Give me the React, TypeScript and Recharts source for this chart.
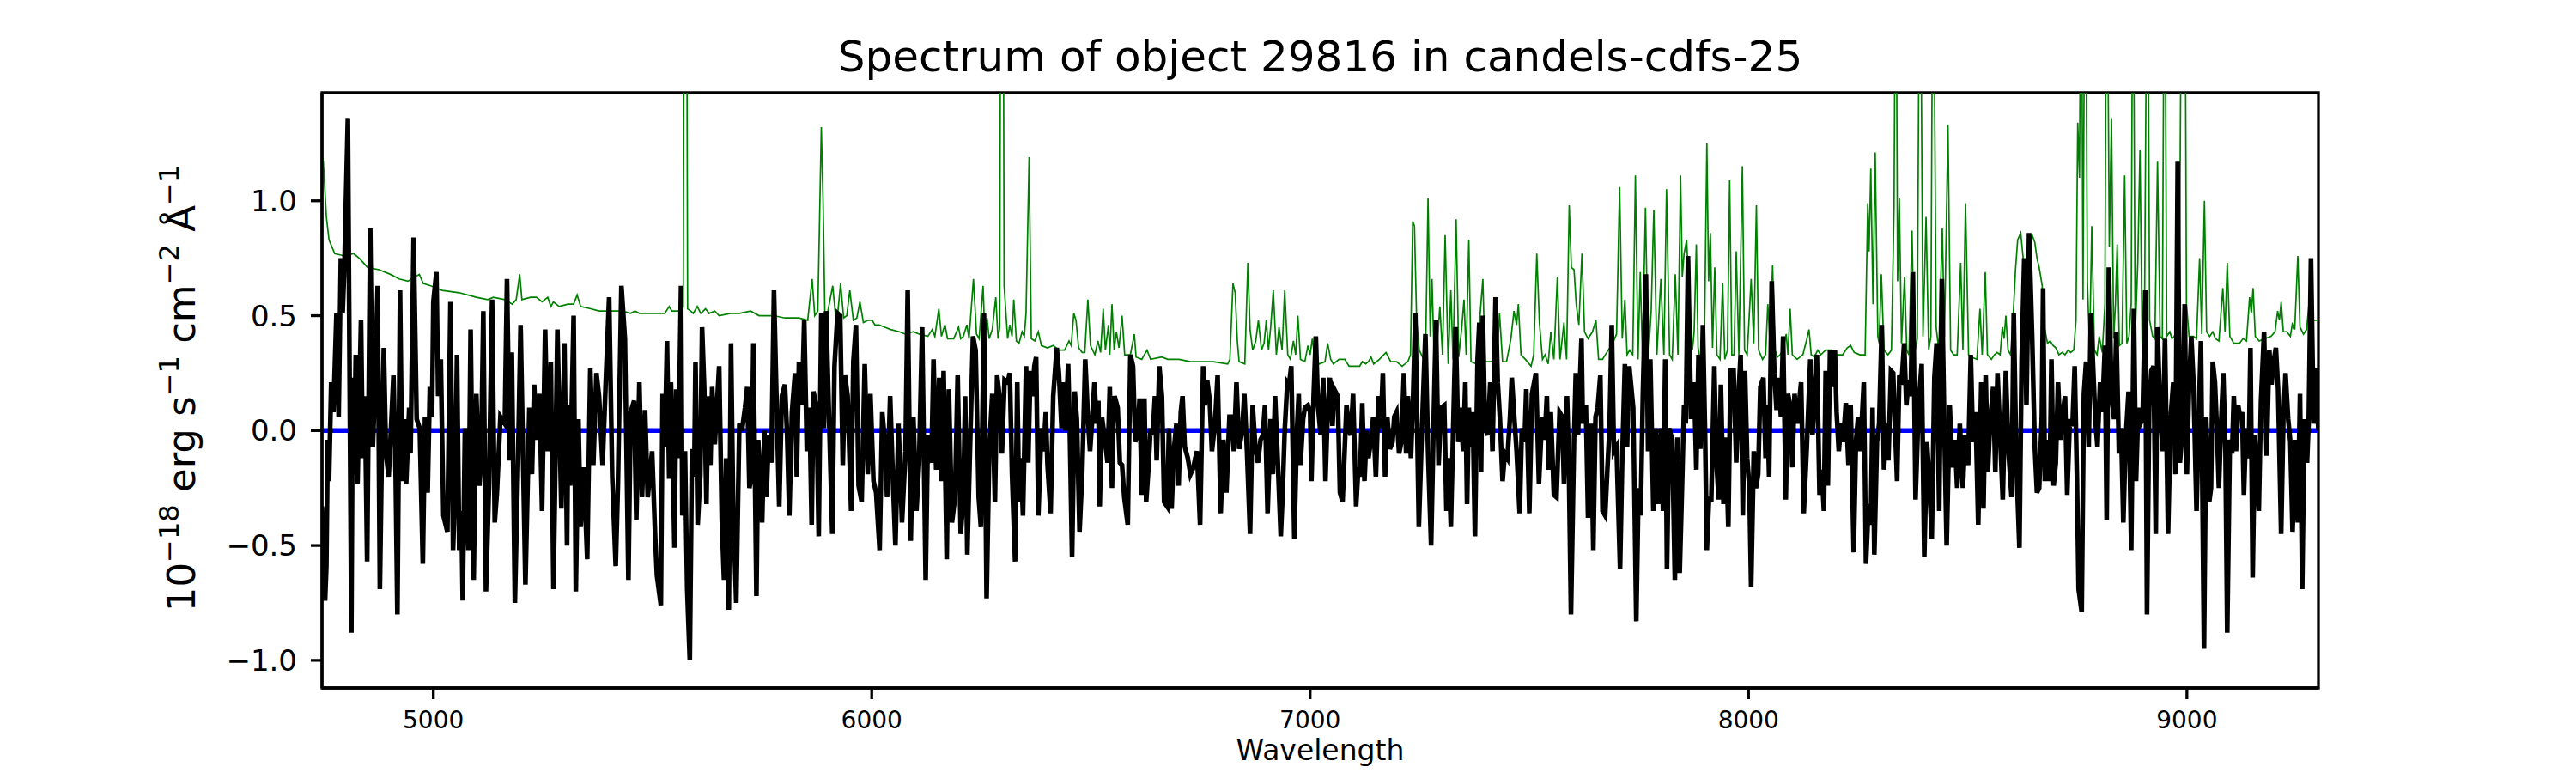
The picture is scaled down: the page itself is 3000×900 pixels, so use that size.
import React from 'react';
import { LineChart, Line, XAxis, YAxis, ReferenceArea } from 'recharts';

const FONT = '"DejaVu Sans", sans-serif';

const WAVE_RANGE = [4746, 9300];
const FLUX_RANGE = [-1.12, 1.47];
const WAVE_TICKS = [5000, 6000, 7000, 8000, 9000];
const FLUX_TICKS = [-1.0, -0.5, 0.0, 0.5, 1.0];

// observed spectrum [wavelength, flux]
const SPECTRUM: [number, number][] = [
  [4746, -0.33], [4753, -0.74], [4756, -0.59], [4759, -0.04], [4762, -0.22], [4767, 0.21], [4772, 0.08], [4779, 0.51],
  [4784, 0.06], [4789, 0.75], [4793, 0.51], [4797, 0.71], [4805, 1.36], [4813, -0.88], [4816, 0.23], [4819, -0.19],
  [4823, 0.33], [4827, -0.23], [4835, 0.48], [4839, -0.12], [4844, 0.15], [4849, -0.57], [4856, 0.88], [4862, -0.07],
  [4867, 0.2], [4873, 0.63], [4878, -0.69], [4883, -0.02], [4887, 0.36], [4892, -0.1], [4898, -0.2], [4902, -0.05],
  [4909, 0.24], [4914, -0.19], [4918, -0.8], [4924, 0.61], [4929, -0.22], [4935, 0.05], [4938, -0.23], [4945, 0.1],
  [4948, -0.1], [4955, 0.84], [4962, 0.05], [4969, 0.01], [4976, -0.58], [4981, 0.06], [4987, -0.27], [4992, 0.19],
  [4997, 0.06], [5000, 0.56], [5007, 0.69], [5011, 0.15], [5017, 0.31], [5023, -0.37], [5032, -0.44], [5039, 0.56],
  [5045, -0.52], [5050, -0.22], [5054, 0.33], [5059, -0.52], [5064, -0.35], [5067, -0.74], [5072, 0.01], [5080, -0.52],
  [5085, 0.44], [5092, -0.65], [5098, 0.16], [5105, -0.24], [5109, -0.12], [5114, 0.52], [5120, -0.7], [5127, -0.24],
  [5134, 0.57], [5140, -0.4], [5145, -0.27], [5153, 0.06], [5163, 0.03], [5168, 0.66], [5174, -0.13], [5179, 0.34],
  [5186, -0.75], [5193, -0.15], [5199, 0.46], [5210, -0.67], [5219, 0.1], [5225, -0.19], [5230, 0.2], [5235, -0.04],
  [5242, 0.16], [5248, -0.35], [5255, 0.44], [5261, -0.09], [5268, 0.3], [5274, -0.69], [5283, 0.44], [5292, -0.34],
  [5299, 0.38], [5305, -0.5], [5308, 0.11], [5312, -0.24], [5320, 0.5], [5325, -0.7], [5331, 0.05], [5336, -0.42],
  [5343, -0.16], [5351, -0.56], [5358, 0.27], [5365, -0.15], [5372, 0.25], [5378, 0.15], [5386, -0.15], [5393, 0.2],
  [5401, 0.58], [5408, -0.2], [5416, -0.59], [5421, -0.24], [5429, 0.63], [5437, 0.4], [5445, -0.65], [5450, 0.08],
  [5458, 0.13], [5463, -0.39], [5470, 0.21], [5476, -0.29], [5483, 0.09], [5489, -0.29], [5499, -0.09], [5506, -0.46],
  [5510, -0.63], [5519, -0.76], [5523, 0.16], [5528, -0.07], [5533, 0.39], [5538, -0.21], [5542, 0.21], [5546, -0.1],
  [5550, -0.51], [5554, 0.18], [5559, -0.12], [5565, 0.63], [5568, -0.37], [5574, -0.09], [5579, -0.69], [5585, -1.0],
  [5590, -0.08], [5595, -0.2], [5598, 0.3], [5603, -0.41], [5609, -0.19], [5613, 0.45], [5618, 0.18], [5623, -0.32],
  [5627, 0.15], [5632, -0.15], [5636, 0.19], [5642, -0.06], [5652, 0.28], [5658, -0.39], [5663, -0.65], [5668, -0.12],
  [5674, -0.78], [5679, 0.38], [5684, -0.35], [5691, -0.75], [5698, 0.03], [5704, 0.0], [5711, 0.1], [5716, 0.19],
  [5721, -0.25], [5726, -0.2], [5730, 0.38], [5737, -0.72], [5741, -0.04], [5745, -0.19], [5750, -0.4], [5755, 0.0],
  [5760, -0.29], [5765, -0.02], [5771, -0.14], [5777, 0.61], [5782, 0.2], [5789, -0.33], [5795, 0.15], [5802, 0.2],
  [5807, -0.02], [5812, -0.37], [5818, 0.08], [5825, 0.25], [5829, -0.2], [5834, 0.3], [5841, 0.11], [5846, 0.48],
  [5852, -0.09], [5858, 0.1], [5863, -0.41], [5867, 0.17], [5874, 0.1], [5879, -0.46], [5885, 0.51], [5891, 0.01],
  [5896, 0.52], [5903, 0.03], [5910, -0.45], [5915, 0.28], [5922, 0.51], [5928, 0.5], [5934, -0.15], [5939, 0.24],
  [5945, 0.15], [5953, -0.35], [5958, 0.3], [5964, 0.46], [5970, -0.24], [5977, -0.31], [5984, 0.29], [5991, -0.19],
  [5997, 0.16], [6004, -0.22], [6010, -0.27], [6018, -0.52], [6024, 0.08], [6030, -0.05], [6035, -0.29], [6042, 0.15],
  [6048, -0.2], [6054, -0.5], [6061, 0.03], [6069, -0.4], [6077, -0.09], [6082, 0.61], [6089, -0.48], [6095, 0.06],
  [6102, -0.35], [6108, -0.14], [6115, 0.45], [6123, -0.65], [6128, -0.02], [6136, -0.14], [6141, 0.31], [6147, -0.17],
  [6154, 0.23], [6159, -0.22], [6164, 0.26], [6171, -0.56], [6176, 0.18], [6183, -0.4], [6190, -0.29], [6196, 0.24],
  [6203, -0.45], [6209, -0.29], [6213, 0.15], [6218, -0.54], [6224, -0.09], [6231, 0.41], [6237, 0.35], [6244, -0.29],
  [6249, -0.42], [6256, 0.51], [6262, -0.73], [6268, -0.09], [6275, 0.16], [6281, -0.31], [6286, 0.24], [6292, 0.14],
  [6297, -0.1], [6303, 0.22], [6310, 0.21], [6315, 0.25], [6320, -0.19], [6327, -0.57], [6332, 0.21], [6336, -0.31],
  [6340, -0.12], [6345, -0.37], [6352, 0.28], [6357, -0.14], [6362, 0.26], [6367, 0.15], [6371, 0.28], [6375, 0.32],
  [6380, -0.37], [6387, 0.01], [6392, -0.09], [6397, 0.08], [6401, -0.15], [6408, -0.36], [6414, 0.15], [6422, 0.36],
  [6427, 0.25], [6433, 0.01], [6438, 0.21], [6442, 0.0], [6448, 0.29], [6452, -0.02], [6457, -0.55], [6463, 0.17],
  [6468, 0.05], [6474, -0.44], [6480, -0.19], [6487, 0.31], [6493, 0.06], [6498, -0.09], [6503, 0.05], [6508, 0.21],
  [6513, 0.03], [6517, 0.13], [6520, -0.33], [6525, 0.06], [6532, -0.04], [6538, -0.14], [6543, 0.19], [6548, -0.25],
  [6551, 0.03], [6554, 0.15], [6561, 0.1], [6566, -0.14], [6571, -0.15], [6576, -0.29], [6584, -0.41], [6590, 0.33],
  [6596, 0.28], [6601, -0.05], [6607, 0.0], [6611, 0.14], [6616, -0.28], [6622, 0.14], [6626, -0.31], [6631, -0.17],
  [6636, 0.01], [6641, -0.02], [6646, 0.15], [6650, -0.13], [6656, 0.28], [6662, 0.15], [6667, -0.31], [6674, -0.33],
  [6678, 0.01], [6684, -0.34], [6689, -0.09], [6695, 0.03], [6700, -0.24], [6705, 0.08], [6709, 0.15], [6714, -0.07],
  [6721, -0.12], [6727, -0.19], [6734, -0.16], [6738, -0.12], [6742, -0.09], [6749, -0.41], [6756, 0.28], [6760, 0.11],
  [6765, 0.22], [6771, 0.13], [6776, -0.09], [6783, 0.03], [6789, 0.24], [6796, -0.36], [6802, -0.04], [6809, -0.27],
  [6816, 0.06], [6822, 0.06], [6826, -0.09], [6832, 0.21], [6838, -0.08], [6845, 0.0], [6850, 0.16], [6856, -0.09],
  [6863, -0.45], [6869, 0.11], [6875, -0.07], [6881, -0.14], [6887, -0.04], [6892, -0.02], [6897, 0.11], [6903, -0.36],
  [6910, 0.05], [6915, -0.19], [6920, 0.15], [6926, -0.12], [6933, -0.46], [6937, -0.29], [6942, 0.0], [6948, 0.21],
  [6952, 0.2], [6957, 0.28], [6964, -0.47], [6970, 0.0], [6974, 0.16], [6978, -0.15], [6984, 0.05], [6988, 0.1],
  [6995, 0.11], [7000, 0.08], [7003, -0.22], [7008, 0.15], [7013, 0.41], [7018, 0.11], [7024, -0.02], [7030, 0.23],
  [7035, -0.22], [7040, 0.08], [7045, 0.23], [7051, 0.02], [7055, 0.18], [7063, 0.15], [7068, -0.27], [7074, -0.31],
  [7083, 0.11], [7089, 0.0], [7093, -0.02], [7098, 0.16], [7105, -0.33], [7110, -0.16], [7114, -0.2], [7119, 0.12],
  [7124, -0.22], [7129, 0.0], [7133, -0.12], [7139, -0.04], [7144, 0.06], [7150, -0.2], [7156, 0.15], [7161, 0.01],
  [7166, 0.25], [7171, -0.2], [7176, 0.06], [7182, -0.08], [7188, -0.05], [7192, 0.06], [7197, 0.08], [7203, -0.1],
  [7208, -0.05], [7214, 0.25], [7219, -0.1], [7223, 0.15], [7230, -0.12], [7235, 0.15], [7240, 0.51], [7248, -0.42],
  [7255, 0.0], [7263, 0.42], [7269, -0.09], [7276, -0.5], [7282, 0.06], [7287, 0.48], [7293, -0.15], [7299, 0.1],
  [7306, 0.11], [7311, -0.35], [7316, -0.12], [7321, -0.42], [7326, -0.02], [7332, 0.45], [7338, -0.05], [7343, 0.1],
  [7349, -0.09], [7354, 0.21], [7358, -0.32], [7362, 0.1], [7367, -0.07], [7371, 0.08], [7376, -0.46], [7382, 0.31],
  [7386, 0.47], [7390, -0.18], [7394, 0.5], [7399, 0.01], [7405, -0.02], [7411, 0.21], [7416, -0.09], [7423, 0.58],
  [7428, 0.21], [7433, 0.05], [7439, -0.22], [7444, -0.1], [7450, -0.12], [7456, 0.06], [7460, 0.23], [7466, 0.05],
  [7471, -0.09], [7478, -0.36], [7483, 0.01], [7489, -0.05], [7493, 0.18], [7500, -0.36], [7506, 0.16], [7515, 0.25],
  [7522, -0.23], [7529, 0.06], [7535, -0.04], [7540, 0.15], [7544, -0.17], [7549, 0.08], [7556, -0.28], [7562, -0.29],
  [7569, 0.08], [7575, 0.06], [7579, -0.23], [7586, 0.15], [7590, -0.12], [7595, -0.8], [7602, -0.04], [7606, 0.25],
  [7611, -0.02], [7619, 0.4], [7622, 0.03], [7629, 0.11], [7634, -0.38], [7641, 0.03], [7646, -0.52], [7651, 0.06],
  [7656, 0.1], [7662, 0.24], [7667, -0.35], [7673, -0.37], [7678, -0.17], [7683, 0.01], [7688, 0.46], [7693, -0.09],
  [7699, -0.07], [7707, -0.6], [7712, -0.12], [7718, 0.29], [7723, -0.07], [7728, 0.28], [7737, 0.1], [7744, -0.83],
  [7749, -0.25], [7754, -0.37], [7759, 0.16], [7766, 0.68], [7771, -0.09], [7776, 0.31], [7783, -0.35], [7788, 0.01],
  [7795, -0.32], [7800, 0.01], [7805, -0.35], [7810, 0.31], [7814, -0.6], [7819, 0.01], [7826, -0.04], [7832, -0.65],
  [7838, -0.03], [7843, -0.62], [7848, -0.27], [7853, 0.11], [7857, 0.03], [7862, 0.76], [7869, 0.05], [7874, 0.21],
  [7878, 0.05], [7881, -0.17], [7886, 0.33], [7890, -0.08], [7896, 0.46], [7901, -0.02], [7905, -0.52], [7910, -0.29],
  [7915, -0.31], [7922, 0.28], [7927, -0.14], [7932, -0.3], [7937, 0.2], [7943, -0.32], [7948, -0.03], [7954, -0.42],
  [7959, 0.26], [7966, 0.26], [7972, -0.14], [7977, 0.15], [7982, 0.33], [7987, -0.37], [7992, 0.26], [7997, -0.12],
  [8002, -0.25], [8006, -0.68], [8012, -0.09], [8017, -0.25], [8022, -0.19], [8027, 0.19], [8034, 0.23], [8039, -0.12],
  [8043, 0.11], [8047, -0.2], [8053, 0.65], [8059, 0.25], [8064, 0.09], [8069, 0.23], [8074, 0.06], [8079, 0.41],
  [8085, -0.3], [8090, 0.16], [8095, 0.11], [8100, -0.16], [8105, 0.16], [8111, 0.03], [8116, 0.13], [8120, 0.21],
  [8126, -0.36], [8133, -0.07], [8141, 0.31], [8146, -0.02], [8151, 0.16], [8156, 0.33], [8162, -0.28], [8167, -0.17],
  [8172, -0.35], [8176, 0.26], [8181, -0.24], [8186, 0.35], [8192, 0.19], [8197, 0.35], [8201, 0.08], [8206, -0.09],
  [8211, 0.03], [8216, -0.05], [8222, 0.12], [8228, -0.15], [8233, 0.11], [8240, -0.53], [8245, -0.05], [8250, 0.06],
  [8255, -0.09], [8263, 0.21], [8268, -0.58], [8274, -0.32], [8279, -0.41], [8283, 0.1], [8287, -0.54], [8293, -0.05],
  [8298, 0.03], [8304, 0.46], [8309, -0.17], [8314, 0.03], [8319, -0.13], [8325, 0.26], [8330, 0.25], [8334, 0.03],
  [8339, -0.22], [8344, 0.24], [8349, 0.2], [8355, 0.38], [8360, 0.11], [8365, 0.22], [8370, 0.15], [8375, 0.69],
  [8381, -0.3], [8388, 0.11], [8395, 0.29], [8401, -0.55], [8407, -0.05], [8412, -0.2], [8418, -0.47], [8424, 0.23],
  [8429, 0.38], [8435, -0.35], [8441, 0.66], [8447, -0.02], [8452, -0.5], [8459, 0.11], [8465, -0.16], [8471, -0.04],
  [8476, -0.25], [8482, 0.03], [8489, -0.25], [8494, -0.02], [8501, -0.15], [8507, 0.33], [8512, -0.05], [8518, 0.08],
  [8524, -0.41], [8531, 0.21], [8536, -0.34], [8541, 0.24], [8546, -0.18], [8551, 0.03], [8558, 0.19], [8563, -0.18],
  [8568, 0.25], [8574, -0.02], [8580, -0.3], [8587, 0.26], [8593, -0.09], [8600, -0.29], [8605, 0.51], [8611, -0.14],
  [8618, -0.51], [8623, 0.31], [8629, 0.75], [8634, 0.11], [8640, 0.86], [8647, 0.41], [8653, -0.07], [8658, -0.27],
  [8663, -0.25], [8669, 0.05], [8672, 0.62], [8676, -0.22], [8682, -0.04], [8687, -0.22], [8691, 0.31], [8696, -0.24],
  [8701, -0.14], [8706, 0.21], [8712, -0.04], [8717, 0.08], [8722, 0.15], [8727, -0.28], [8733, 0.05], [8739, 0.02],
  [8744, 0.28], [8749, -0.19], [8753, -0.69], [8760, -0.79], [8765, 0.16], [8770, 0.3], [8776, -0.07], [8781, 0.51],
  [8786, 0.28], [8791, 0.05], [8796, -0.07], [8802, 0.21], [8807, 0.08], [8813, 0.37], [8817, -0.39], [8822, 0.71],
  [8828, 0.15], [8834, 0.05], [8839, 0.43], [8845, -0.1], [8850, 0.01], [8855, -0.4], [8860, -0.05], [8867, 0.17],
  [8873, -0.52], [8879, 0.53], [8884, -0.22], [8889, 0.1], [8894, 0.03], [8899, 0.05], [8905, 0.61], [8909, -0.8],
  [8914, 0.1], [8919, 0.26], [8924, 0.28], [8929, -0.45], [8933, 0.45], [8939, 0.08], [8945, -0.09], [8950, 0.4],
  [8957, -0.45], [8963, 0.06], [8969, 0.21], [8974, -0.19], [8979, 1.17], [8984, -0.14], [8989, -0.02], [8995, 0.55],
  [9000, -0.19], [9005, 0.2], [9010, 0.41], [9015, 0.21], [9022, -0.35], [9027, 0.06], [9032, 0.39], [9039, -0.95],
  [9044, 0.06], [9051, -0.31], [9055, -0.25], [9059, 0.3], [9064, 0.21], [9069, -0.02], [9073, -0.25], [9078, 0.03],
  [9083, 0.25], [9088, -0.09], [9092, -0.88], [9098, -0.04], [9103, -0.1], [9107, 0.15], [9112, -0.09], [9117, 0.11],
  [9122, 0.05], [9126, 0.08], [9130, -0.28], [9135, 0.01], [9141, -0.12], [9145, 0.36], [9150, -0.64], [9155, -0.02],
  [9160, -0.19], [9164, -0.35], [9169, 0.13], [9176, 0.43], [9182, -0.11], [9188, 0.35], [9193, 0.2], [9198, 0.3],
  [9203, 0.36], [9208, 0.18], [9215, -0.45], [9220, 0.05], [9225, 0.25], [9231, 0.05], [9236, -0.05], [9241, -0.44],
  [9248, -0.04], [9253, -0.4], [9258, 0.16], [9263, -0.69], [9268, 0.05], [9274, -0.14], [9278, 0.05], [9283, 0.75],
  [9289, 0.03], [9293, 0.27], [9300, 0.0],
];

// uncertainty / sky spectrum [wavelength, flux]
const NOISE: [number, number][] = [
  [4746, 1.19], [4749, 1.17], [4756, 0.93], [4762, 0.83], [4775, 0.77], [4798, 0.76], [4818, 0.77], [4831, 0.75],
  [4850, 0.71], [4876, 0.7], [4902, 0.68], [4922, 0.66], [4942, 0.65], [4968, 0.68], [4977, 0.64], [4994, 0.63],
  [5020, 0.61], [5059, 0.6], [5098, 0.58], [5124, 0.57], [5137, 0.58], [5163, 0.57], [5180, 0.55], [5189, 0.57],
  [5197, 0.68], [5202, 0.57], [5222, 0.58], [5235, 0.58], [5248, 0.56], [5261, 0.58], [5268, 0.54], [5274, 0.56],
  [5287, 0.54], [5307, 0.55], [5320, 0.55], [5328, 0.59], [5336, 0.54], [5359, 0.53], [5378, 0.52], [5398, 0.52],
  [5431, 0.52], [5450, 0.51], [5460, 0.52], [5470, 0.51], [5496, 0.51], [5528, 0.51], [5538, 0.54], [5544, 0.52],
  [5557, 0.52], [5568, 0.52], [5570, 0.54], [5573, 2.8], [5575, 1.5], [5577, 2.8], [5580, 0.53], [5587, 0.52],
  [5593, 0.51], [5602, 0.54], [5610, 0.51], [5621, 0.53], [5629, 0.51], [5642, 0.52], [5652, 0.5], [5678, 0.51],
  [5698, 0.51], [5724, 0.52], [5743, 0.5], [5776, 0.5], [5802, 0.49], [5834, 0.49], [5854, 0.48], [5864, 0.66],
  [5870, 0.5], [5877, 0.52], [5885, 1.32], [5889, 1.0], [5893, 0.52], [5896, 0.48], [5911, 0.63], [5917, 0.51],
  [5923, 0.52], [5929, 0.64], [5936, 0.49], [5943, 0.5], [5950, 0.61], [5958, 0.48], [5966, 0.49], [5973, 0.56],
  [5981, 0.47], [5991, 0.48], [6001, 0.48], [6007, 0.46], [6017, 0.46], [6030, 0.45], [6043, 0.44], [6063, 0.43],
  [6076, 0.42], [6095, 0.43], [6108, 0.42], [6128, 0.41], [6138, 0.44], [6144, 0.41], [6153, 0.53], [6159, 0.41],
  [6167, 0.46], [6173, 0.4], [6187, 0.4], [6198, 0.45], [6203, 0.4], [6209, 0.41], [6217, 0.46], [6222, 0.4],
  [6232, 0.66], [6239, 0.42], [6245, 0.4], [6254, 0.63], [6258, 0.41], [6263, 0.49], [6268, 0.4], [6275, 0.44],
  [6283, 0.58], [6288, 0.4], [6292, 0.45], [6295, 3.0], [6299, 3.0], [6302, 0.63], [6310, 0.4], [6315, 0.46],
  [6320, 0.41], [6324, 0.57], [6330, 0.39], [6336, 0.38], [6343, 0.43], [6348, 0.41], [6352, 0.51], [6359, 1.19],
  [6364, 0.4], [6372, 0.39], [6380, 0.43], [6387, 0.37], [6401, 0.36], [6414, 0.37], [6427, 0.35], [6440, 0.35],
  [6450, 0.39], [6455, 0.37], [6461, 0.51], [6466, 0.48], [6472, 0.36], [6480, 0.34], [6486, 0.34], [6493, 0.57],
  [6499, 0.37], [6509, 0.33], [6516, 0.39], [6522, 0.34], [6528, 0.53], [6533, 0.35], [6540, 0.46], [6543, 0.33],
  [6548, 0.55], [6553, 0.35], [6558, 0.43], [6564, 0.36], [6571, 0.5], [6577, 0.33], [6590, 0.33], [6599, 0.42],
  [6603, 0.32], [6616, 0.31], [6628, 0.35], [6636, 0.31], [6662, 0.32], [6675, 0.31], [6701, 0.31], [6727, 0.3],
  [6753, 0.3], [6779, 0.3], [6812, 0.29], [6817, 0.31], [6824, 0.64], [6829, 0.6], [6834, 0.39], [6838, 0.3],
  [6851, 0.29], [6858, 0.73], [6863, 0.44], [6869, 0.35], [6876, 0.39], [6882, 0.48], [6889, 0.35], [6895, 0.38],
  [6900, 0.48], [6905, 0.35], [6910, 0.45], [6916, 0.61], [6923, 0.33], [6929, 0.45], [6936, 0.35], [6942, 0.61],
  [6949, 0.33], [6955, 0.31], [6962, 0.39], [6967, 0.33], [6972, 0.5], [6978, 0.31], [6988, 0.3], [6995, 0.37],
  [7000, 0.33], [7005, 0.4], [7011, 0.31], [7021, 0.29], [7034, 0.3], [7040, 0.38], [7047, 0.31], [7053, 0.29],
  [7066, 0.31], [7079, 0.31], [7089, 0.28], [7113, 0.28], [7119, 0.3], [7127, 0.29], [7133, 0.3], [7139, 0.32],
  [7145, 0.29], [7158, 0.31], [7173, 0.34], [7184, 0.3], [7197, 0.3], [7210, 0.28], [7223, 0.3], [7229, 0.33],
  [7234, 0.91], [7238, 0.89], [7243, 0.48], [7249, 0.35], [7259, 0.31], [7264, 0.41], [7269, 1.01], [7274, 0.41],
  [7278, 0.66], [7283, 0.31], [7290, 0.38], [7296, 0.54], [7302, 0.33], [7308, 0.85], [7315, 0.29], [7321, 0.61],
  [7326, 0.31], [7333, 0.92], [7339, 0.32], [7346, 0.45], [7351, 0.57], [7356, 0.33], [7362, 0.83], [7367, 0.3],
  [7380, 0.29], [7388, 0.51], [7394, 0.66], [7399, 0.3], [7412, 0.3], [7426, 0.31], [7432, 0.51], [7439, 0.3],
  [7448, 0.3], [7458, 0.4], [7465, 0.52], [7471, 0.46], [7475, 0.55], [7481, 0.33], [7491, 0.31], [7504, 0.28],
  [7510, 0.33], [7517, 0.77], [7523, 0.47], [7530, 0.31], [7536, 0.33], [7543, 0.29], [7549, 0.43], [7556, 0.31],
  [7564, 0.67], [7570, 0.31], [7579, 0.47], [7585, 0.31], [7591, 0.98], [7596, 0.71], [7602, 0.7], [7607, 0.55],
  [7613, 0.46], [7620, 0.77], [7626, 0.43], [7634, 0.4], [7644, 0.43], [7652, 0.48], [7658, 0.31], [7667, 0.31],
  [7680, 0.35], [7688, 0.37], [7699, 0.42], [7706, 1.06], [7712, 0.4], [7718, 0.57], [7723, 0.33], [7729, 0.35],
  [7736, 0.33], [7742, 1.11], [7748, 0.31], [7753, 0.69], [7758, 0.33], [7765, 0.97], [7771, 0.31], [7778, 0.52],
  [7784, 0.96], [7791, 0.33], [7800, 0.66], [7807, 0.33], [7813, 1.05], [7820, 0.33], [7826, 0.31], [7833, 0.68],
  [7839, 0.33], [7845, 1.11], [7849, 0.67], [7853, 0.77], [7859, 0.83], [7866, 0.51], [7872, 0.35], [7876, 0.43],
  [7881, 0.81], [7885, 0.36], [7889, 0.31], [7899, 0.33], [7905, 1.25], [7909, 0.65], [7913, 0.86], [7918, 0.36],
  [7923, 0.71], [7928, 0.33], [7935, 0.31], [7941, 0.64], [7946, 0.31], [7952, 0.35], [7957, 1.09], [7962, 0.33],
  [7967, 0.33], [7972, 0.78], [7978, 0.33], [7986, 1.15], [7991, 0.35], [7997, 0.33], [8006, 0.66], [8012, 0.38],
  [8018, 0.98], [8023, 0.35], [8032, 0.31], [8039, 0.33], [8044, 0.55], [8049, 0.38], [8055, 0.72], [8060, 0.35],
  [8066, 0.32], [8072, 0.33], [8079, 0.35], [8086, 0.42], [8090, 0.33], [8095, 0.53], [8100, 0.33], [8111, 0.31],
  [8124, 0.33], [8132, 0.39], [8138, 0.44], [8143, 0.33], [8150, 0.32], [8158, 0.35], [8165, 0.33], [8176, 0.35],
  [8189, 0.35], [8202, 0.33], [8215, 0.33], [8225, 0.36], [8233, 0.37], [8241, 0.34], [8254, 0.33], [8266, 0.33],
  [8272, 0.99], [8275, 0.78], [8279, 1.14], [8284, 0.55], [8289, 1.21], [8295, 0.41], [8298, 0.38], [8303, 0.68],
  [8309, 0.35], [8318, 0.33], [8326, 0.35], [8332, 0.98], [8336, 2.5], [8340, 0.65], [8344, 1.01], [8349, 0.38],
  [8356, 0.67], [8361, 0.35], [8366, 0.33], [8373, 0.87], [8378, 0.33], [8385, 0.4], [8391, 2.5], [8398, 0.41],
  [8405, 0.93], [8411, 0.35], [8416, 0.41], [8421, 2.5], [8428, 0.45], [8434, 0.35], [8442, 0.88], [8447, 0.41],
  [8455, 1.33], [8461, 0.35], [8468, 0.33], [8476, 0.33], [8484, 0.73], [8489, 0.35], [8495, 0.99], [8502, 0.33],
  [8508, 0.32], [8521, 0.31], [8528, 0.53], [8533, 0.33], [8540, 0.69], [8545, 0.33], [8554, 0.31], [8561, 0.33],
  [8567, 0.34], [8574, 0.33], [8579, 0.45], [8583, 0.4], [8587, 0.5], [8592, 0.35], [8598, 0.33], [8604, 0.51],
  [8609, 0.7], [8614, 0.83], [8621, 0.86], [8626, 0.76], [8632, 0.63], [8639, 0.8], [8647, 0.85], [8653, 0.82],
  [8658, 0.75], [8663, 0.71], [8670, 0.63], [8675, 0.45], [8682, 0.38], [8688, 0.39], [8695, 0.37], [8701, 0.36],
  [8708, 0.33], [8716, 0.34], [8722, 0.33], [8729, 0.35], [8735, 0.34], [8742, 0.35], [8747, 0.48], [8751, 1.34],
  [8755, 1.1], [8759, 2.5], [8763, 0.57], [8768, 2.5], [8773, 0.65], [8778, 0.35], [8783, 0.89], [8789, 0.35],
  [8795, 0.33], [8800, 0.41], [8807, 0.34], [8813, 0.55], [8817, 2.5], [8823, 0.8], [8828, 1.36], [8833, 0.4],
  [8837, 0.55], [8841, 0.81], [8846, 0.37], [8852, 0.38], [8858, 1.11], [8863, 0.38], [8868, 0.41], [8873, 0.55],
  [8877, 2.5], [8882, 0.41], [8888, 0.73], [8893, 1.22], [8898, 0.38], [8903, 0.41], [8910, 2.5], [8915, 0.48],
  [8922, 0.41], [8927, 0.4], [8933, 1.17], [8939, 0.41], [8944, 0.4], [8949, 2.5], [8954, 0.41], [8961, 0.43],
  [8966, 0.4], [8971, 0.41], [8976, 0.43], [8983, 0.64], [8989, 2.5], [8995, 2.5], [8999, 0.55], [9005, 0.41],
  [9015, 0.41], [9022, 0.4], [9029, 0.75], [9034, 0.42], [9040, 1.0], [9045, 0.43], [9052, 0.41], [9059, 0.43],
  [9065, 0.4], [9073, 0.39], [9082, 0.62], [9087, 0.43], [9092, 0.73], [9098, 0.41], [9107, 0.38], [9120, 0.38],
  [9128, 0.4], [9136, 0.39], [9143, 0.58], [9147, 0.51], [9151, 0.62], [9156, 0.41], [9165, 0.39], [9178, 0.4],
  [9192, 0.41], [9201, 0.43], [9207, 0.52], [9211, 0.48], [9215, 0.56], [9220, 0.43], [9228, 0.43], [9236, 0.41],
  [9241, 0.47], [9246, 0.44], [9253, 0.76], [9258, 0.45], [9266, 0.42], [9273, 0.44], [9280, 0.58], [9289, 0.48],
  [9300, 0.48],
];

const ZERO_LEVEL: [number, number][] = [[4746, 0], [9300, 0]];

const toRows = (pairs: [number, number][]) => pairs.map(([w, f]) => ({ w, f }));

const fmt = (v: number) => v.toFixed(1).replace('-', '\u2212');

const App: React.FC = () => {
  const spectrum = toRows(SPECTRUM);
  const noise = toRows(NOISE);
  const zero = toRows(ZERO_LEVEL);

  return (
    <div style={{ position: 'absolute', left: 0, top: 0, width: 3000, height: 900, background: '#fff' }}>
      <LineChart width={3000} height={900} margin={{ top: 108, right: 300, bottom: 0, left: 0 }}>
        <XAxis
          type="number"
          dataKey="w"
          domain={WAVE_RANGE}
          ticks={WAVE_TICKS}
          interval={0}
          height={99}
          allowDataOverflow
          tick={{ fontSize: 28, fill: '#000', fontFamily: FONT }}
          tickSize={13}
          tickMargin={14}
          tickLine={{ stroke: '#000', strokeWidth: 3.3 }}
          axisLine={{ stroke: '#000', strokeWidth: 3.3 }}
        />
        <YAxis
          type="number"
          dataKey="f"
          domain={FLUX_RANGE}
          ticks={FLUX_TICKS}
          interval={0}
          width={375}
          allowDataOverflow
          tickFormatter={fmt}
          tick={{ fontSize: 34, fill: '#000', fontFamily: FONT }}
          tickSize={13}
          tickMargin={16}
          tickLine={{ stroke: '#000', strokeWidth: 3.3 }}
          axisLine={{ stroke: '#000', strokeWidth: 3.3 }}
        />
        <Line data={zero} dataKey="f" stroke="#0000ff" strokeWidth={5.5} dot={false} activeDot={false} isAnimationActive={false} />
        <Line data={noise} dataKey="f" stroke="#008000" strokeWidth={1.7} dot={false} activeDot={false} isAnimationActive={false} />
        <Line data={spectrum} dataKey="f" stroke="#000000" strokeWidth={5.5} dot={false} activeDot={false} isAnimationActive={false} />
        <ReferenceArea
          x1={WAVE_RANGE[0]}
          x2={WAVE_RANGE[1]}
          y1={FLUX_RANGE[0]}
          y2={FLUX_RANGE[1]}
          fill="none"
          stroke="#000"
          strokeWidth={3.3}
          ifOverflow="visible"
        />
      </LineChart>
      <svg width={3000} height={900} style={{ position: 'absolute', left: 0, top: 0, pointerEvents: 'none' }}>
        <text x={1537.5} y={83} textAnchor="middle" fontSize={50} fontFamily={FONT} fill="#000">
          Spectrum of object 29816 in candels-cdfs-25
        </text>
        <text x={1537.5} y={885} textAnchor="middle" fontSize={33} fontFamily={FONT} fill="#000">
          Wavelength
        </text>
        <text
          transform="translate(227,452) rotate(-90)"
          textAnchor="middle"
          fontSize={45}
          fontFamily={FONT}
          fill="#000"
        >
          <tspan>10</tspan>
          <tspan fontSize={32} dy={-19}>{'\u221218'}</tspan>
          <tspan dy={19}> erg s</tspan>
          <tspan fontSize={32} dy={-19}>{'\u22121'}</tspan>
          <tspan dy={19}> cm</tspan>
          <tspan fontSize={32} dy={-19}>{'\u22122'}</tspan>
          <tspan dy={19}> Å</tspan>
          <tspan fontSize={32} dy={-19}>{'\u22121'}</tspan>
        </text>
      </svg>
    </div>
  );
};

export default App;
